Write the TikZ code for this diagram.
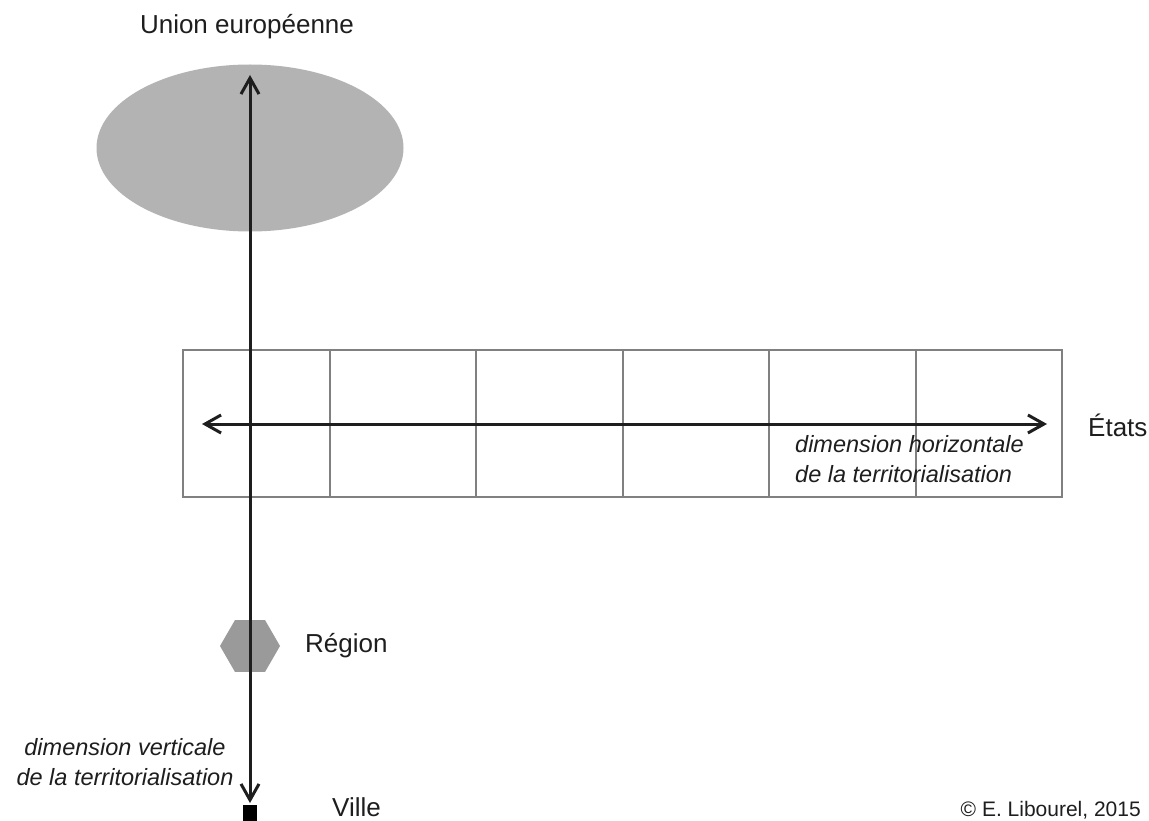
\documentclass[tikz,border=0pt]{standalone}
\usepackage{fontspec}
\setmainfont{Liberation Sans}
\usetikzlibrary{arrows.meta,shapes.geometric}
\definecolor{ellgray}{HTML}{B3B3B3}
\definecolor{hexgray}{HTML}{9A9A9A}
\definecolor{gridgray}{HTML}{808080}
\definecolor{ink}{HTML}{1E1E1E}
\tikzset{
  lbl/.style={text=ink, inner sep=0pt, font=\fontsize{26}{30}\selectfont},
  ital/.style={text=ink, inner sep=0pt, align=left, font=\fontsize{23.5}{30}\selectfont\itshape},
  axis/.style={draw=ink, line width=3pt, {Straight Barb[length=16pt,width=18pt,line width=3pt]}-{Straight Barb[length=16pt,width=18pt,line width=3pt]}},
  gridline/.style={draw=gridgray, line width=2pt}
}
\begin{document}
\begin{tikzpicture}[x=1pt,y=-1pt]
\useasboundingbox (0,0) rectangle (1149,821);
\fill[white] (0,0) rectangle (1149,821);
% EU ellipse
\node[ellipse, fill=ellgray, minimum width=307pt, minimum height=167pt, inner sep=0] (eu) at (250,148) {};
% grid of states
\draw[gridline] (183,350) rectangle (1062,497);
\foreach \x in {330,476,623,769,916} \draw[gridline] (\x,350) -- (\x,497);
% region hexagon
\node[regular polygon, regular polygon sides=6, fill=hexgray, minimum size=60pt, inner sep=0] (reg) at (250,646) {};
% city square
\node[fill=black, minimum width=14pt, minimum height=18pt, inner sep=0] (city) at (250,814) {};
% axes
\coordinate (vtop) at (250,75);
\coordinate (vbot) at (250,803);
\coordinate (hl) at (202,424);
\coordinate (hr) at (1047,424);
\draw[axis] (vbot) -- (vtop);
\draw[axis] (hl) -- (hr);
% labels
\node[lbl] (teu) at (247,27) {Union européenne};
\node[lbl, anchor=west] (tet) at (1088,425) {États};
\node[lbl, anchor=west] (treg) at (305,646) {Région};
\node[lbl, anchor=west] (tvil) at (332,807) {Ville};
\node[ital, anchor=north west] (thor) at (795,435) {dimension horizontale\\de la territorialisation};
\node[ital, align=center, anchor=north] (tver) at (125,738) {dimension verticale\\de la territorialisation};
\node[text=ink, inner sep=0pt, anchor=east, font=\fontsize{21}{24}\selectfont] (copy) at (1141,810) {© E. Libourel, 2015};
\end{tikzpicture}
\end{document}
